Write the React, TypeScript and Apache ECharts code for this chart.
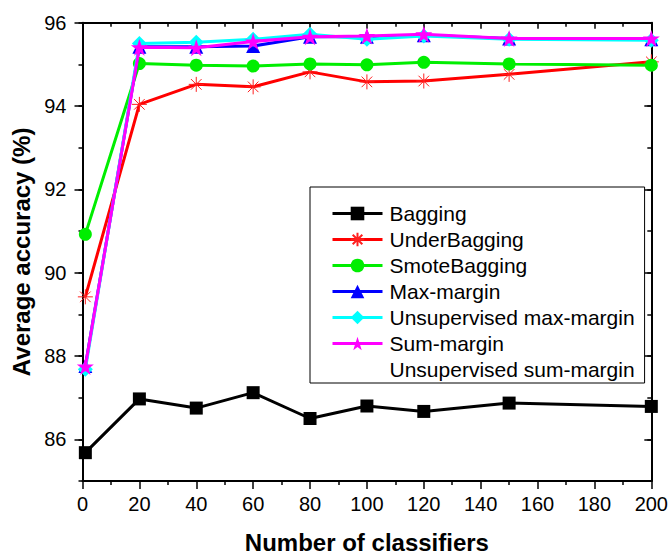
import React, { useEffect, useRef } from "react";
import * as echarts from "echarts";

// Number of classifiers in the ensemble
const classifierCounts = [1, 20, 40, 60, 80, 100, 120, 150, 200];

// Average accuracy (%) of each method
const bagging = [85.68, 86.97, 86.75, 87.12, 86.5, 86.8, 86.67, 86.87, 86.79];
const underBagging = [89.42, 94.04, 94.52, 94.46, 94.82, 94.58, 94.6, 94.76, 95.06];
const smoteBagging = [90.92, 95.02, 94.98, 94.96, 95.01, 94.99, 95.05, 95.01, 94.98];
const maxMargin = [87.76, 95.42, 95.42, 95.44, 95.66, 95.66, 95.7, 95.62, 95.6];
const unsupMaxMargin = [87.68, 95.5, 95.53, 95.6, 95.72, 95.6, 95.68, 95.6, 95.58];
const sumMargin = [87.75, 95.41, 95.4, 95.55, 95.66, 95.68, 95.72, 95.62, 95.62];

const yMajorTicks = [86, 88, 90, 92, 94, 96];
const yAllTicks = [85, 86, 87, 88, 89, 90, 91, 92, 93, 94, 95, 96];

const FONT = "'Liberation Sans', Arial, sans-serif";

// Eight-armed asterisk marker, drawn as strokes
const ASTERISK =
  "path://M7.5,0L7.5,15M0,7.5L15,7.5M2.2,2.2L12.8,12.8M12.8,2.2L2.2,12.8";
// Five-pointed star marker
const STAR =
  "path://M50,0L61.8,35.5L99,35.5L69,57.5L80.4,93L50,71L19.6,93L31,57.5L1,35.5L38.2,35.5Z";

function pairs(values: number[]) {
  return values.map((v, i) => [classifierCounts[i], v]);
}

function lineSeries(
  name: string,
  values: number[],
  color: string,
  symbol: string,
  symbolSize: number,
  z: number
) {
  return {
    name,
    type: "line",
    data: pairs(values),
    symbol,
    symbolSize,
    z,
    showSymbol: true,
    lineStyle: { color, width: 3 },
    itemStyle: { color, borderWidth: 0 },
    emphasis: { disabled: true },
  };
}

export default function App() {
  const ref = useRef<HTMLDivElement>(null);

  useEffect(() => {
    if (!ref.current) return;
    const chart = echarts.init(ref.current, null, { renderer: "svg" });

    const axisLine = { show: true, lineStyle: { color: "#000", width: 2 } };

    const series: any[] = [
      lineSeries("Bagging", bagging, "#000000", "rect", 13, 2),
      {
        ...lineSeries("UnderBagging", underBagging, "#ff0000", ASTERISK, 15, 3),
        itemStyle: { color: "none", borderColor: "#ff2020", borderWidth: 1 },
      },
      lineSeries("SmoteBagging", smoteBagging, "#00ee00", "circle", 13, 4),
      lineSeries("Max-margin", maxMargin, "#0000ff", "triangle", 14, 5),
      lineSeries("Unsupervised max-margin", unsupMaxMargin, "#00ffff", "diamond", 15, 6),
      lineSeries("Sum-margin", sumMargin, "#ff00ff", STAR, 17, 7),
      {
        name: "Unsupervised sum-margin",
        type: "line",
        data: [],
        symbol: "none",
        lineStyle: { width: 0, opacity: 0 },
      },
    ];

    chart.setOption({
      animation: false,
      backgroundColor: "#ffffff",
      textStyle: { fontFamily: FONT, color: "#000" },
      grid: { left: 82.5, right: 19, top: 22.7, bottom: 74.3, containLabel: false },
      legend: {
        orient: "vertical",
        left: 310,
        top: 187,
        padding: [16, 10, 3, 21],
        itemWidth: 50,
        itemHeight: 17,
        itemGap: 5,
        borderColor: "#000",
        borderWidth: 1,
        backgroundColor: "#fff",
        selectedMode: false,
        lineStyle: { width: 3 },
        textStyle: { fontSize: 21, fontFamily: FONT, color: "#000", padding: [0, 0, 0, 2] },
        data: [
          "Bagging",
          "UnderBagging",
          "SmoteBagging",
          "Max-margin",
          "Unsupervised max-margin",
          "Sum-margin",
          { name: "Unsupervised sum-margin", icon: "none" },
        ],
      },
      xAxis: [
        {
          type: "value",
          position: "bottom",
          min: 0,
          max: 200,
          interval: 20,
          axisLine,
          axisTick: { show: true, length: 8, lineStyle: { color: "#000", width: 1.5 } },
          minorTick: { show: true, splitNumber: 2, length: 4, lineStyle: { color: "#000", width: 1.5 } },
          axisLabel: { fontSize: 20, color: "#000", margin: 13, fontFamily: FONT },
          splitLine: { show: false },
          name: "Number of classifiers",
          nameLocation: "middle",
          nameGap: 49,
          nameTextStyle: { fontSize: 24, fontWeight: "bold", color: "#000", fontFamily: FONT },
        },
        {
          type: "value",
          position: "top",
          min: 0,
          max: 200,
          interval: 20,
          axisLine,
          axisTick: { show: true, inside: true, length: 6, lineStyle: { color: "#000", width: 1.5 } },
          minorTick: { show: true, splitNumber: 2, length: 4, lineStyle: { color: "#000", width: 1.5 } },
          axisLabel: { show: false },
          splitLine: { show: false },
        },
      ],
      yAxis: [
        {
          type: "value",
          position: "left",
          min: 85,
          max: 96,
          interval: 1,
          axisLine,
          axisTick: {
            show: true,
            length: 8,
            customValues: yMajorTicks,
            lineStyle: { color: "#000", width: 1.5 },
          },
          axisLabel: {
            fontSize: 20,
            color: "#000",
            margin: 16,
            fontFamily: FONT,
            customValues: yMajorTicks,
          },
          splitLine: { show: false },
          name: "Average accuracy (%)",
          nameLocation: "middle",
          nameGap: 44,
          nameTextStyle: { fontSize: 24, fontWeight: "bold", color: "#000", fontFamily: FONT },
        },
        {
          type: "value",
          position: "left",
          min: 85,
          max: 96,
          interval: 1,
          axisLine: { show: false },
          axisTick: {
            show: true,
            length: 4,
            customValues: yAllTicks,
            lineStyle: { color: "#000", width: 1.5 },
          },
          axisLabel: { show: false },
          splitLine: { show: false },
        },
        {
          type: "value",
          position: "right",
          min: 85,
          max: 96,
          interval: 1,
          axisLine,
          axisTick: {
            show: true,
            inside: true,
            length: 7,
            customValues: yMajorTicks,
            lineStyle: { color: "#000", width: 1.5 },
          },
          axisLabel: { show: false },
          splitLine: { show: false },
        },
        {
          type: "value",
          position: "right",
          min: 85,
          max: 96,
          interval: 1,
          axisLine: { show: false },
          axisTick: {
            show: true,
            inside: true,
            length: 4,
            customValues: yAllTicks,
            lineStyle: { color: "#000", width: 1.5 },
          },
          axisLabel: { show: false },
          splitLine: { show: false },
        },
      ],
      series,
    });

    return () => chart.dispose();
  }, []);

  return (
    <div
      ref={ref}
      style={{ position: "absolute", left: 0, top: 0, width: 671, height: 559 }}
    />
  );
}
